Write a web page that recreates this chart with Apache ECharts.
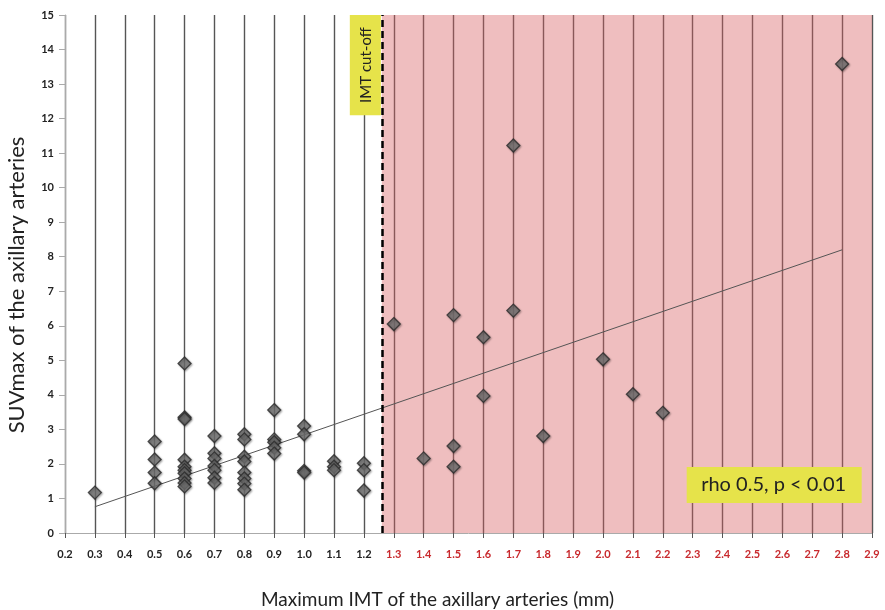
<!DOCTYPE html>
<html><head><meta charset="utf-8">
<script src="https://cdn.jsdelivr.net/npm/echarts@6/dist/echarts.min.js"></script>
<style>html,body{margin:0;padding:0;background:#fff}#c{width:885px;height:610px}</style>
</head><body><div id="c"></div>
<script>
// IMT (mm) values and SUVmax values
const imtValues = [
  0.3,
  0.5, 0.5, 0.5, 0.5,
  0.6, 0.6, 0.6, 0.6, 0.6, 0.6, 0.6, 0.6, 0.6, 0.6,
  0.7, 0.7, 0.7, 0.7, 0.7, 0.7, 0.7,
  0.8, 0.8, 0.8, 0.8, 0.8, 0.8, 0.8, 0.8,
  0.9, 0.9, 0.9, 0.9, 0.9,
  1.0, 1.0, 1.0, 1.0,
  1.1, 1.1, 1.1,
  1.2, 1.2, 1.2,
  1.3, 1.4, 1.5, 1.5, 1.5, 1.6, 1.6, 1.7, 1.7, 1.8, 2.0, 2.1, 2.2, 2.8
];
const suvValues = [
  1.17,
  2.65, 2.13, 1.75, 1.44,
  4.91, 3.35, 3.3, 2.12, 1.92, 1.82, 1.73, 1.58, 1.45, 1.35,
  2.81, 2.31, 2.16, 1.94, 1.82, 1.6, 1.45,
  2.86, 2.71, 2.21, 2.07, 1.75, 1.58, 1.43, 1.25,
  3.56, 2.71, 2.63, 2.47, 2.3,
  3.1, 2.86, 1.8, 1.75,
  2.08, 1.92, 1.82,
  2.02, 1.82, 1.23,
  6.05, 2.16, 6.31, 2.52, 1.92, 5.67, 3.97, 6.44, 11.22, 2.81, 5.03, 4.02, 3.48, 13.58
];
const trendX = [0.3, 2.8];
const trendY = [0.76, 8.2];
const cutoff = 1.26;
const xMin = 0.2, xMax = 2.9, xStep = 0.1;
const yMin = 0, yMax = 15, yStep = 1;
const xTitle = 'Maximum IMT of the axillary arteries (mm)';
const yTitle = 'SUVmax of the axillary arteries';
const cutoffLabel = 'IMT cut-off';
const statsLabel = 'rho 0.5, p < 0.01';

const points = imtValues.map((x, i) => [x, suvValues[i]]);
const trend = trendX.map((x, i) => [x, trendY[i]]);

const chart = echarts.init(document.getElementById('c'));
const font = 'Lato, "Open Sans", sans-serif';
chart.setOption({
  animation: false,
  backgroundColor: '#fff',
  grid: {left: 65, right: 13, top: 15, bottom: 77, containLabel: false, outerBoundsMode: 'none'},
  xAxis: {
    type: 'value', min: xMin, max: xMax, interval: xStep,
    name: xTitle, nameLocation: 'middle', nameGap: 57,
    nameTextStyle: {fontFamily: font, fontSize: 19, color: '#222', padding: [0, 62, 0, 0]},
    axisLine: {show: true, onZero: false, lineStyle: {color: '#aaa', width: 1}},
    axisTick: {show: true, length: 5, lineStyle: {color: '#555'}},
    splitLine: {show: true, lineStyle: {color: '#555', width: 1.4}},
    axisLabel: {
      margin: 16,
      formatter: v => (v > cutoff ? '{r|' : '{b|') + v.toFixed(1) + '}',
      rich: {
        b: {fontFamily: font, fontSize: 11, fontWeight: 'bold', color: '#222'},
        r: {fontFamily: font, fontSize: 11, fontWeight: 'bold', color: '#c8282c'}
      }
    }
  },
  yAxis: {
    type: 'value', min: yMin, max: yMax, interval: yStep,
    name: yTitle, nameLocation: 'middle', nameGap: 37,
    nameTextStyle: {fontFamily: font, fontSize: 22, color: '#222', padding: [0, 22, 0, 0]},
    axisLine: {show: true, lineStyle: {color: '#aaa', width: 1}},
    axisTick: {show: true, length: 6, lineStyle: {color: '#aaa'}},
    splitLine: {show: false},
    axisLabel: {margin: 11, fontFamily: font, fontSize: 11, fontWeight: 'bold', color: '#222'}
  },
  series: [
    {
      type: 'scatter', data: points, z: 3,
      symbol: 'diamond', symbolSize: 13,
      itemStyle: {color: '#6f6f6f', borderColor: '#2a2a2a', borderWidth: 1.3,
        shadowColor: 'rgba(0,0,0,0.35)', shadowBlur: 2, shadowOffsetX: 1, shadowOffsetY: 1}
    },
    {
      type: 'line', data: trend, z: 2, symbol: 'none',
      lineStyle: {color: '#555', width: 1}
    },
    {
      type: 'line', data: [], z: 5, silent: true,
      markArea: {
        silent: true,
        itemStyle: {color: 'rgba(214,92,96,0.40)'},
        data: [[{xAxis: cutoff, yAxis: yMin}, {xAxis: xMax, yAxis: yMax}]]
      }
    },
    {
      type: 'line', data: [], z: 6, silent: true,
      markLine: {
        silent: true, symbol: 'none', label: {show: false},
        lineStyle: {color: '#000', width: 2.5, type: [7, 4]},
        data: [[{coord: [cutoff, yMin]}, {coord: [cutoff, yMax]}]]
      }
    }
  ]
});

// annotation boxes placed via the chart's own scales
const p1 = chart.convertToPixel('grid', [cutoff, yMax]);
const p2 = chart.convertToPixel('grid', [cutoff, 12.1]);
const r1 = chart.convertToPixel('grid', [2.28, 0.87]);
chart.setOption({
  graphic: [
    {type: 'rect', z: 100, shape: {x: p1[0] - 32, y: p1[1], width: 31, height: p2[1] - p1[1]},
      style: {fill: '#e6e34a'}},
    {type: 'text', z: 101, x: p1[0] - 16, y: (p1[1] + p2[1]) / 2, rotation: Math.PI / 2,
      style: {text: cutoffLabel, fill: '#222', font: '15px ' + font, align: 'center', verticalAlign: 'middle'}},
    {type: 'rect', z: 100, shape: {x: r1[0], y: r1[1] - 36, width: 175, height: 36},
      style: {fill: '#e6e34a'}},
    {type: 'text', z: 101, x: r1[0] + 87, y: r1[1] - 18,
      style: {text: statsLabel, fill: '#222', font: '20px ' + font, align: 'center', verticalAlign: 'middle'}}
  ]
});
</script></body></html>
